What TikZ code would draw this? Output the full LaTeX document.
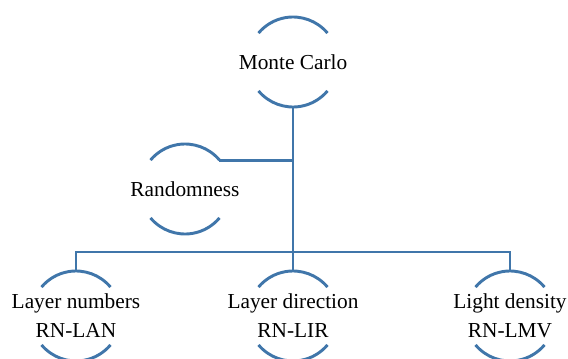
\documentclass[tikz,border=0pt]{standalone}
\usepackage{fontspec}
\setmainfont{Liberation Serif}
\usepackage{tikz}
\usetikzlibrary{positioning, calc}
\definecolor{linkblue}{RGB}{64, 118, 170}

\begin{document}
\begin{tikzpicture}[
          x=0.75pt, y=0.75pt,
          ring/.style={circle, minimum size=67.5pt, inner sep=0pt, outer sep=0pt},
          lbl/.style={font=\fontsize{16}{21.75}\selectfont, align=center, inner sep=0pt},
          link/.style={draw=linkblue, line width=2.2pt},
        ]
        \useasboundingbox (0,0) rectangle (568,358);
        \clip (0,0) rectangle (568,358);

        % rings
        \node[ring] (mc)  at (293,296) {};
        \node[ring] (rnd) at (185,169) {};
        \node[ring] (lan) at (76,42)   {};
        \node[ring] (lir) at (293,42)  {};
        \node[ring] (lmv) at (510,42)  {};

        % labels
        \node[lbl] (mctxt)  at (mc)  {Monte Carlo};
        \node[lbl] (rndtxt) at (rnd) {Randomness};
        \node[lbl] (lantxt) at (lan) {Layer numbers\\RN-LAN};
        \node[lbl] (lirtxt) at (lir) {Layer direction\\RN-LIR};
        \node[lbl] (lmvtxt) at (lmv) {Light density\\RN-LMV};

        \foreach \n in {mc, rnd, lan, lir, lmv} {
          \draw[link] (\n.40) arc[start angle=40, end angle=140, radius=33.75pt];
          \draw[link] (\n.220) arc[start angle=220, end angle=320, radius=33.75pt];
        }

        \coordinate (bar) at (293,106);
        \draw[link] (mc.south) -- (lir.north);
        \draw[link] (rnd.40) -- (rnd.40 -| mc.south);
        \draw[link] (lan.north) |- (bar) -| (lmv.north);
      \end{tikzpicture}
\end{document}
